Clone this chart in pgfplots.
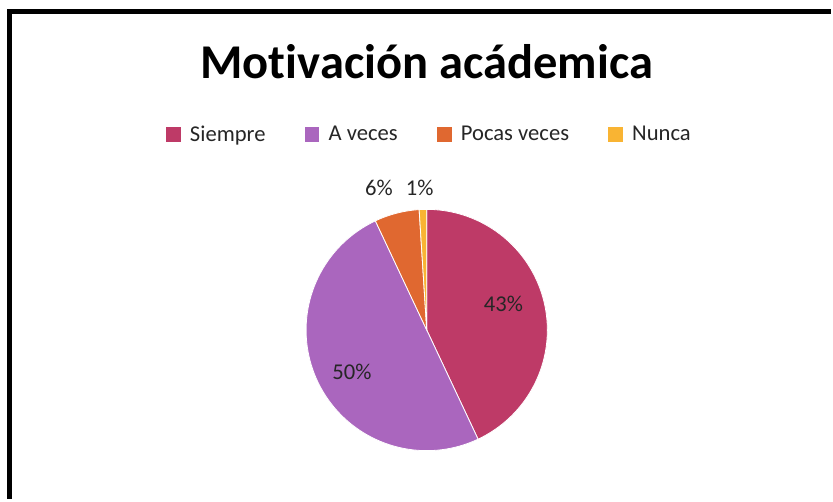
\documentclass[border=0pt]{standalone}
\usepackage{fontspec}
\setmainfont{Carlito}[Ligatures={NoCommon}]
\usepackage{pgfplots}
\pgfplotsset{compat=1.18}
\definecolor{siempre}{RGB}{190,58,103}
\definecolor{aveces}{RGB}{170,102,190}
\definecolor{pocas}{RGB}{224,104,48}
\definecolor{nunca}{RGB}{249,180,51}
\definecolor{txt}{RGB}{38,38,38}

% porcentajes
\def\pSiempre{43}
\def\pAveces{50}
\def\pPocas{6}
\def\pNunca{1}
% angulos (sentido horario desde arriba)
\pgfmathsetmacro{\aA}{90}
\pgfmathsetmacro{\aB}{\aA-3.6*\pSiempre}
\pgfmathsetmacro{\aC}{\aB-3.6*\pAveces}
\pgfmathsetmacro{\aD}{\aC-3.6*\pPocas}
\pgfmathsetmacro{\aE}{\aD-3.6*\pNunca}

\begin{document}
\begin{tikzpicture}
\begin{axis}[
  hide axis, scale only axis,
  width=624.75pt, height=375pt,
  xmin=0, xmax=833, ymin=0, ymax=500,
  clip=false,
  legend columns=4,
  legend style={at={(axis cs:431,365)}, anchor=center, draw=none, fill=none,
    text=txt, font=\fontsize{17}{20}\selectfont,
    /tikz/every odd column/.append style={column sep=5pt},
    /tikz/every even column/.append style={column sep=27.5pt}},
  legend image code/.code={\fill[#1, draw=none] (0pt,-5.2pt) rectangle (11pt,5.8pt);},
]
\addplot[fill=siempre, draw=white, line width=0.6pt, domain=\aB:\aA, samples=80, variable=\t]
  ({428+121*cos(\t)},{169+121*sin(\t)}) -- (axis cs:428,169) -- cycle;
\addlegendentry{Siempre}
\addplot[fill=aveces, draw=white, line width=0.6pt, domain=\aC:\aB, samples=80, variable=\t]
  ({428+121*cos(\t)},{169+121*sin(\t)}) -- (axis cs:428,169) -- cycle;
\addlegendentry{A veces}
\addplot[fill=pocas, draw=white, line width=0.6pt, domain=\aD:\aC, samples=20, variable=\t]
  ({428+121*cos(\t)},{169+121*sin(\t)}) -- (axis cs:428,169) -- cycle;
\addlegendentry{Pocas veces}
\addplot[fill=nunca, draw=white, line width=0.6pt, domain=\aE:\aD, samples=5, variable=\t]
  ({428+121*cos(\t)},{169+121*sin(\t)}) -- (axis cs:428,169) -- cycle;
\addlegendentry{Nunca}

\node[text=txt, font=\fontsize{17}{20}\selectfont] at (axis cs:505,195) {43\%};
\node[text=txt, font=\fontsize{17}{20}\selectfont] at (axis cs:353,127) {50\%};
\node[text=txt, font=\fontsize{17}{20}\selectfont] at (axis cs:380,312) {6\%};
\node[text=txt, font=\fontsize{17}{20}\selectfont] at (axis cs:421,312) {1\%};

\node[font=\bfseries\fontsize{36.5}{44}\selectfont] at (axis cs:428,438) {Motivación acádemica};

\draw[line width=3.75pt, miter limit=10] (axis cs:9.5,0) -- (axis cs:9.5,488) -- (axis cs:833,488);
\path (axis cs:0,0) rectangle (axis cs:833,500);
\end{axis}
\end{tikzpicture}
\end{document}
